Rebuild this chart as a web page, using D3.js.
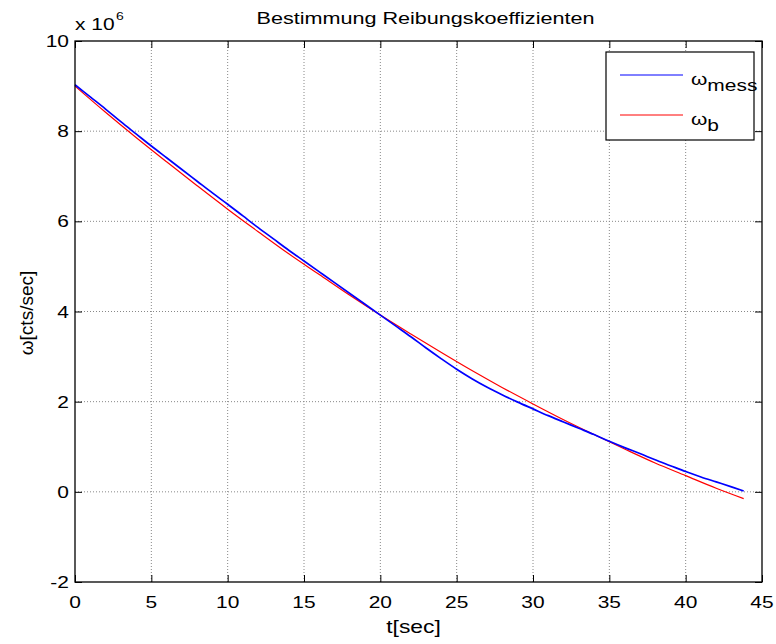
<!DOCTYPE html>
<html>
<head>
<meta charset="utf-8">
<script src="https://cdn.jsdelivr.net/npm/d3@7"></script>
<style>
  html, body { margin: 0; padding: 0; background: #fff; }
  svg text { font-family: "Liberation Sans", Arial, sans-serif; fill: #000; }
</style>
</head>
<body>
<svg id="chart" width="776" height="644"></svg>
<script>
// ---- data ----
const title = "Bestimmung Reibungskoeffizienten";
const xLabel = "t[sec]";
const yLabel = "\u03C9[cts/sec]";
const xTicks = [0, 5, 10, 15, 20, 25, 30, 35, 40, 45];
const yTicks = [-2, 0, 2, 4, 6, 8, 10];

// measured omega (x 10^6)
const messT = [0,1,2,3,4,5,6,7,8,9,10,11,12,13,14,15,16,17,18,19,20,21,22,23,24,25,26,27,28,29,30,31,32,33,34,35,36,37,38,39,40,41,42,43,43.8];
const messW = [9.03,8.76,8.49,8.21,7.94,7.67,7.41,7.15,6.89,6.63,6.38,6.12,5.86,5.61,5.36,5.12,4.88,4.64,4.40,4.16,3.92,3.68,3.44,3.19,2.95,2.72,2.51,2.32,2.15,1.99,1.84,1.69,1.55,1.41,1.27,1.12,0.98,0.85,0.71,0.58,0.45,0.33,0.22,0.11,0.02];

// model omega_b (x 10^6)
const bT = [0,2,4,6,8,10,12,14,16,18,20,22,24,26,28,30,32,34,36,38,40,42,43.8];
const bW = [9.00,8.42,7.86,7.32,6.79,6.27,5.77,5.28,4.82,4.36,3.92,3.50,3.09,2.69,2.31,1.95,1.60,1.27,0.95,0.64,0.36,0.08,-0.15];

// ---- layout ----
const L = 75, R = 762, T = 41, B = 582;
const SX = 1.27; // horizontal text stretch of the reference
const svg = d3.select("#chart");

const x = d3.scaleLinear().domain([0, 45]).range([L, R]);
const y = d3.scaleLinear().domain([-2, 10]).range([B, T]);

function stext(g, px, py, str, size, anchor) {
  const gg = g.append("g").attr("transform", `translate(${px},${py}) scale(${SX},1)`);
  return gg.append("text").attr("x", 0).attr("y", 0)
    .attr("font-size", size).attr("text-anchor", anchor || "start").text(str);
}

// grid
const grid = svg.append("g");
grid.selectAll("line.gx").data(xTicks.slice(1, -1)).enter().append("line")
  .attr("x1", d => x(d)).attr("x2", d => x(d)).attr("y1", T).attr("y2", B)
  .attr("stroke", "#888").attr("stroke-width", 1).attr("stroke-dasharray", "1,2");
grid.selectAll("line.gy").data(yTicks.slice(1, -1)).enter().append("line")
  .attr("y1", d => y(d)).attr("y2", d => y(d)).attr("x1", L).attr("x2", R)
  .attr("stroke", "#888").attr("stroke-width", 1).attr("stroke-dasharray", "1,2");

// lines
const line = d3.line().curve(d3.curveMonotoneX).x(d => x(d[0])).y(d => y(d[1]));
svg.append("path").datum(bT.map((t, i) => [t, bW[i]]))
  .attr("d", line).attr("fill", "none").attr("stroke", "#ff0000").attr("stroke-width", 1.2);
svg.append("path").datum(messT.map((t, i) => [t, messW[i]]))
  .attr("d", line).attr("fill", "none").attr("stroke", "#0000ff").attr("stroke-width", 1.7);

// axes (inward ticks, box)
const tl = 7;
const axB = svg.append("g").attr("transform", `translate(0,${B})`)
  .call(d3.axisBottom(x).tickValues(xTicks).tickSize(-tl).tickFormat(""));
const axT = svg.append("g").attr("transform", `translate(0,${T})`)
  .call(d3.axisTop(x).tickValues(xTicks).tickSize(-tl).tickFormat(""));
const axL = svg.append("g").attr("transform", `translate(${L},0)`)
  .call(d3.axisLeft(y).tickValues(yTicks).tickSize(-tl).tickFormat(""));
const axR = svg.append("g").attr("transform", `translate(${R},0)`)
  .call(d3.axisRight(y).tickValues(yTicks).tickSize(-tl).tickFormat(""));
[axB, axT, axL, axR].forEach(a => {
  a.select(".domain").remove();
  a.selectAll(".tick line").attr("stroke", "#000").attr("stroke-width", 1);
});
svg.append("rect").attr("x", L).attr("y", T).attr("width", R - L).attr("height", B - T)
  .attr("fill", "none").attr("stroke", "#000").attr("stroke-width", 1.3);

// tick labels
const tg = svg.append("g");
xTicks.forEach(d => stext(tg, x(d), 608, String(d), 16.5, "middle"));
yTicks.forEach(d => stext(tg, 69, y(d) + 6, String(d), 16.5, "end"));

// exponent
stext(tg, 75, 30, "x 10", 16.5, "start");
stext(tg, 116, 20, "6", 11, "start");

// title & labels
stext(svg, (L + R) / 2 + 7, 24, title, 17, "middle");
stext(svg, (L + R) / 2 - 5, 633, xLabel, 18, "middle");
svg.append("text").attr("transform", `translate(33,313) rotate(-90)`)
  .attr("text-anchor", "middle").attr("font-size", 19).text(yLabel);

// legend
const lg = svg.append("g");
lg.append("rect").attr("x", 606).attr("y", 52).attr("width", 148).attr("height", 88)
  .attr("fill", "#fff").attr("stroke", "#000").attr("stroke-width", 1.2);
const legItems = [
  { color: "#0000ff", sub: "mess", yy: 75 },
  { color: "#ff0000", sub: "b", yy: 115 }
];
legItems.forEach(it => {
  lg.append("line").attr("x1", 620).attr("x2", 683).attr("y1", it.yy).attr("y2", it.yy)
    .attr("stroke", it.color).attr("stroke-width", 1);
  const gg = lg.append("g").attr("transform", `translate(691,${it.yy + 10}) scale(${SX},1)`);
  const t = gg.append("text").attr("font-size", 16.5);
  t.append("tspan").text("\u03C9");
  t.append("tspan").attr("dy", 6).attr("font-size", 16.5).text(it.sub);
});
</script>
</body>
</html>
